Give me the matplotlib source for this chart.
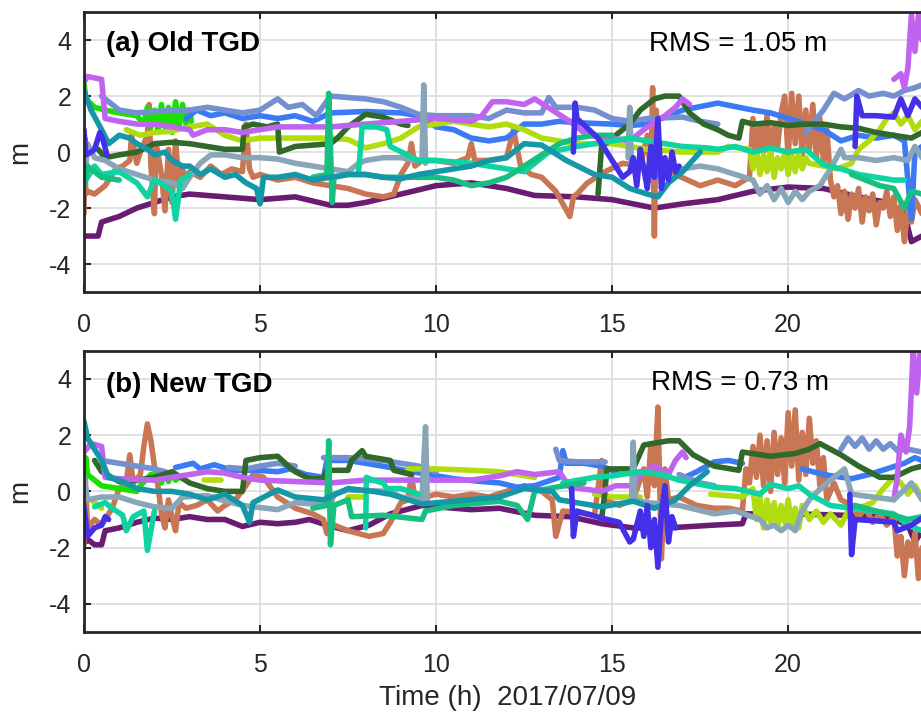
import matplotlib
matplotlib.use('Agg')
import matplotlib.pyplot as plt

plt.rcParams['font.family'] = ['Liberation Sans', 'DejaVu Sans']
plt.rcParams['axes.unicode_minus'] = False

# colours of the satellites
c_purple = '#6a1b72'
c_orange = '#c97655'
c_green = '#19e000'
c_blue = '#3a7af5'
c_violet = '#c064f0'
c_steel = '#7490d0'
c_dgreen = '#31692a'
c_lime = '#b0dc10'
c_teal = '#1497a6'
c_gray = '#89a6b8'
c_aqua = '#0fd3a0'
c_gteal = '#17c080'
c_bviolet = '#4530ea'

xticks = [0, 5, 10, 15, 20]
yticks = [-4, -2, 0, 2, 4]
rms_old = 1.05
rms_new = 0.73

# ---- (a) Old TGD, (hour, metres) ----
a_purple = [(0, -3.0), (0.4, -3.0), (0.5, -2.5), (1.0, -2.3), (1.5, -2.0), (2.0, -1.8), (2.5, -1.6), (3.0, -1.5),
            (4.0, -1.6), (5.0, -1.7), (6.0, -1.6), (7.0, -1.9), (7.5, -1.9), (8.0, -1.8), (9.0, -1.5), (10.0, -1.2),
            (11.0, -1.1), (12.0, -1.3), (12.8, -1.55), (14.0, -1.6), (15.0, -1.7), (16.2, -2.0), (17.0, -1.85),
            (18.0, -1.7), (19.0, -1.4), (20.0, -1.25), (21.0, -1.3), (22.0, -1.6), (22.8, -1.8), (23.3, -2.2),
            (23.5, -3.2), (23.8, -3.0)]
a_orange = [(0.0, -2.2), (0.02, 0.5), (0.05, -1.5), (0.1, -1.4), (0.3, -1.5), (0.6, -1.2), (0.9, -0.6), (1.1, -0.5),
            (1.3, -0.3), (1.35, 0.6), (1.5, -0.4), (1.6, 0.0), (1.8, 0.6), (1.85, 1.7), (1.9, -0.5), (2.0, -2.2),
            (2.05, 0.3), (2.2, -0.8), (2.3, -2.1), (2.4, 0.1), (2.5, -1.8), (2.6, 0.4), (2.7, -1.2), (2.8, -0.6),
            (2.9, -1.0), (3.0, -0.7), (3.3, -0.9), (3.6, -0.5), (3.9, -0.8), (4.2, -0.6), (4.5, -0.7), (4.6, 1.0),
            (4.7, -0.6), (4.8, -0.9), (5.0, -0.8), (5.5, -1.0), (6.0, -0.9), (6.5, -1.1), (7.0, -1.2), (7.5, -1.3),
            (8.0, -1.5), (8.5, -1.6), (8.8, -1.5), (9.0, -0.8), (9.2, -0.4), (9.3, 0.3), (9.4, -0.5), (9.6, -0.3),
            (10.0, -0.3), (10.5, -0.4), (10.9, -0.2), (11.0, 0.3), (11.1, -0.3), (11.5, -0.3), (12.0, -0.2),
            (12.2, 0.8), (12.4, -0.5), (12.7, -0.8), (13.0, -0.9), (13.4, -1.4), (13.8, -2.3), (13.9, -1.6),
            (14.0, -1.5), (14.3, -1.1), (14.8, -0.7), (15.3, -0.4), (15.8, -0.5), (16.0, 0.6), (16.1, -1.0),
            (16.15, 2.3), (16.2, -3.0), (16.25, 1.5), (16.3, -0.6), (16.5, -0.5), (16.8, -0.8), (17.5, -1.2),
            (18.0, -1.0), (18.5, -1.2), (18.9, -0.9), (19.0, 1.2), (19.1, -0.2), (19.2, 1.0), (19.3, 0.0),
            (19.4, 1.3), (19.5, -0.1), (19.6, 0.9), (19.7, 0.2), (19.8, 1.4), (19.9, 2.0), (20.0, -0.2),
            (20.1, 2.1), (20.2, 0.3), (20.3, 2.0), (20.4, -0.1), (20.5, 1.5), (20.6, 0.1), (20.7, 1.7),
            (20.8, -0.2), (20.9, 1.2), (21.0, -0.3), (21.1, 0.8), (21.2, -1.0), (21.3, -1.6), (21.4, -1.2),
            (21.5, -2.2), (21.6, -1.4), (21.7, -2.4), (21.8, -1.5), (21.9, -2.0), (22.0, -1.3), (22.1, -2.5),
            (22.2, -1.6), (22.3, -2.1), (22.4, -1.5), (22.5, -2.6), (22.6, -1.8), (22.7, -2.0), (22.8, -1.4),
            (22.9, -2.3), (23.0, -1.6), (23.1, -2.8), (23.2, -1.9), (23.3, -3.2), (23.4, -2.0), (23.5, -2.5),
            (23.6, -1.7), (23.8, -2.2)]
a_green = [(0.0, 2.5), (0.05, 1.9), (0.3, 1.6), (0.6, 1.5), (1.0, 1.4), (1.5, 1.3), (1.7, 1.0), (1.8, 1.6),
           (1.9, 0.9), (2.0, 1.5), (2.1, 0.8), (2.2, 1.7), (2.3, 0.9), (2.4, 1.6), (2.5, 0.7), (2.6, 1.8),
           (2.7, 0.9), (2.8, 1.7), (2.9, 1.0), (3.0, 1.5), (3.05, 1.1)]
a_blue = [(2.9, 1.2), (3.2, 1.5), (3.6, 1.3), (4.0, 1.4), (4.5, 1.2), (5.0, 1.3), (5.5, 1.2), (6.0, 1.3),
          (6.5, 1.1), (7.0, 1.4), (8.0, 1.45), (9.0, 1.4), (9.5, 1.3), (10.0, 0.9), (10.5, 0.8), (11.0, 0.5),
          (11.5, 0.4), (12.0, 0.5), (12.5, 1.0), (13.0, 1.0), (13.5, 1.1), (14.0, 1.05), (15.0, 1.0),
          (15.5, 0.95), (16.0, 1.0), (17.0, 1.5), (18.0, 1.75), (19.0, 1.5), (19.5, 1.4), (20.0, 1.2),
          (21.0, 0.8), (21.5, 0.4), (22.0, 0.6), (22.5, 0.5), (23.0, 0.6), (23.3, 0.4), (23.5, -2.4),
          (23.6, 0.0), (23.8, 0.2)]
a_violet_1 = [(0.0, 2.5), (0.1, 2.7), (0.5, 2.6), (0.6, 1.2), (1.0, 1.1), (1.5, 1.0), (2.0, 1.0), (2.5, 0.9),
              (3.0, 0.8), (3.1, 0.6), (3.5, 0.8), (4.0, 0.8), (4.5, 0.7), (5.0, 0.8), (5.5, 0.9), (6.0, 0.9),
              (7.0, 0.9), (8.0, 1.0), (9.0, 1.1), (10.0, 1.2), (11.0, 1.1), (11.3, 1.3), (11.6, 1.8), (12.0, 1.8),
              (12.5, 1.7), (12.8, 1.9), (13.3, 1.5), (13.8, 1.1), (14.3, 0.6), (15.0, 0.5), (15.5, 0.4),
              (16.0, 0.9), (16.5, 1.3), (16.8, 1.6), (17.0, 1.9), (17.2, 1.7)]
a_violet_2 = [(23.0, 2.6), (23.2, 2.8), (23.3, 2.3), (23.4, 3.0), (23.5, 4.9), (23.6, 3.6), (23.7, 4.9), (23.8, 4.0)]
a_steel_1 = [(0.5, 2.0), (0.8, 1.7), (1.0, 1.5), (1.5, 1.4), (2.5, 1.5), (3.0, 1.5), (3.5, 1.6), (4.0, 1.5),
             (4.5, 1.4), (5.0, 1.5), (5.5, 1.9), (5.8, 1.6), (6.2, 1.7), (6.6, 1.3), (7.0, 2.0), (7.5, 1.95),
             (8.0, 1.9), (8.5, 1.8), (9.0, 1.6), (9.5, 1.35), (10.0, 1.3), (11.0, 1.3), (11.5, 1.2), (12.0, 1.5),
             (12.5, 1.4), (13.0, 1.4), (13.2, 1.95), (13.4, 1.6), (14.0, 1.6), (14.5, 1.5), (15.0, 1.2),
             (15.5, 1.1), (16.0, 1.2), (17.0, 1.25), (17.5, 1.1), (18.0, 1.0)]
a_steel_2 = [(20.5, 0.7), (21.0, 1.5), (21.3, 2.1), (21.6, 1.9), (22.0, 2.2), (22.3, 2.0), (22.7, 2.1),
             (23.0, 2.0), (23.3, 2.2), (23.6, 2.3), (23.8, 2.4)]
a_dgreen_1 = [(0.4, 0.1), (0.6, -0.2), (1.0, -0.1), (1.5, 0.0), (2.0, 0.3), (2.5, 0.35), (3.0, 0.3), (3.5, 0.2),
              (4.0, 0.1), (4.5, 0.1), (4.55, 0.9), (4.8, 1.0), (5.2, 0.9), (5.5, 1.0), (5.55, 0.0), (6.0, 0.2),
              (6.5, 0.25), (7.0, 0.3), (7.2, 0.5), (7.5, 0.9), (8.0, 1.35), (8.5, 1.25), (9.0, 1.0), (9.2, 0.95)]
a_dgreen_2 = [(14.6, -1.5), (14.7, 0.2), (15.0, 0.5), (15.5, 1.0), (15.8, 1.5), (16.2, 1.9), (16.5, 2.0),
              (16.9, 2.0), (17.2, 1.4), (17.6, 1.0), (18.0, 0.8), (18.3, 0.6), (18.6, 0.5), (18.7, 1.1),
              (19.0, 1.0), (19.5, 1.05), (20.0, 0.95), (20.5, 1.0), (21.0, 1.0), (21.5, 0.9), (22.0, 0.85),
              (22.5, 0.7), (23.0, 0.6), (23.5, 0.5), (23.8, 0.7)]
a_lime = [(1.2, 0.8), (1.6, 0.6), (2.0, 0.7), (2.5, 0.75), (3.0, 0.9), (3.5, 1.0), (4.0, 0.6), (4.5, 0.4),
          (5.0, 0.5), (6.0, 0.5), (7.0, 0.5), (7.5, 0.45), (8.0, 0.15), (8.5, 0.3), (9.0, 0.5), (9.5, 0.9),
          (10.0, 1.0), (10.5, 1.1), (11.0, 1.0), (11.5, 0.9), (12.0, 1.0), (12.5, 0.8), (13.0, 0.5), (14.0, 0.3),
          (15.0, 0.3), (16.0, 0.1), (17.0, 0.0), (18.0, 0.0), (18.3, 0.2), (18.9, 0.1), (19.0, -0.6),
          (19.1, 0.0), (19.2, -0.8), (19.3, -0.1), (19.4, -0.7), (19.5, 0.1), (19.6, -0.9), (19.7, -0.2),
          (19.8, -0.6), (19.9, 0.0), (20.0, -0.8), (20.1, -0.1), (20.2, -0.7), (20.3, 0.0), (20.4, -0.6),
          (20.5, -0.2), (20.6, -0.4), (21.0, -0.5), (21.4, -0.6), (21.8, -0.4), (22.0, 0.1), (22.3, 0.4),
          (22.6, 0.8), (22.8, 1.2), (23.0, 1.4), (23.2, 1.0), (23.4, 1.3), (23.6, 0.8), (23.8, 1.1)]
a_teal = [(0.0, 2.2), (0.2, 1.5), (0.5, 0.8), (0.7, 0.3), (1.0, 0.6), (1.3, 0.5), (1.5, 0.3), (1.8, 0.1),
          (2.0, -0.1), (2.3, 0.0), (2.5, -0.3), (2.8, -0.5), (3.0, -0.5), (3.3, -0.8), (3.6, -0.6), (4.0, -0.9),
          (4.3, -0.8), (4.6, -1.1), (4.9, -1.3), (5.0, -1.85), (5.1, -0.9), (5.5, -0.9), (6.0, -0.8),
          (6.5, -1.0), (7.0, -0.9), (7.5, -0.8), (8.0, -0.8), (8.5, -0.9), (9.0, -0.95), (9.5, -0.8),
          (10.0, -0.7), (10.5, -0.6), (11.0, -0.5), (11.5, -0.3), (12.0, -0.2), (12.5, 0.3), (13.0, 0.25),
          (13.7, -0.3), (14.5, -0.8), (15.0, -0.9), (15.5, -1.3), (16.0, -1.5), (16.3, -1.6), (16.6, -1.1),
          (17.0, -0.7), (17.5, 0.0)]
a_gray_1 = [(0.0, 0.0), (0.05, -0.6), (0.1, 0.3), (0.3, -0.2), (0.6, -0.3), (1.0, -0.6), (1.5, -0.8),
            (2.0, -1.0), (2.5, -1.1), (2.8, -1.3), (3.0, -0.9), (3.3, -0.4), (3.6, -0.1), (4.0, -0.1),
            (4.5, -0.2), (5.0, -0.2), (5.5, -0.25), (6.0, -0.4), (6.5, -0.5), (7.0, -0.6), (7.5, -0.7),
            (7.8, -0.4), (8.0, -0.3), (8.5, -0.2), (9.0, -0.2), (9.4, -0.3), (9.6, -0.3), (9.65, 2.4), (9.7, -0.4)]
a_gray_2 = [(15.45, -0.2), (15.5, 1.6), (15.55, -0.6), (16.0, -0.5), (16.5, -0.6), (17.0, -0.6), (17.5, -0.5),
            (18.0, -0.6), (18.5, -0.8), (19.0, -1.0), (19.2, -1.5), (19.4, -1.2), (19.6, -1.7), (19.8, -1.3),
            (20.0, -1.8), (20.2, -1.4), (20.4, -1.7), (20.6, -1.4), (20.9, -1.2), (21.2, -0.6), (21.5, 0.1),
            (21.6, -0.2), (22.0, -0.2), (22.5, -0.3), (23.0, -0.2), (23.4, -0.3), (23.6, 0.2), (23.8, -0.2)]
a_aqua_1 = [(0.0, -1.1), (0.3, -0.5), (0.5, -0.8), (1.0, -0.7), (1.5, -1.1), (1.8, -1.6), (2.0, -1.0),
            (2.3, -1.2), (2.5, -1.4), (2.6, -2.4), (2.75, -1.0), (3.0, -0.8)]
a_aqua_2 = [(7.8, -0.7), (7.9, 0.9), (8.3, 0.9), (8.6, 0.8), (8.7, 0.2), (9.5, -0.3), (10.0, -0.3), (11.0, -0.4),
            (11.5, -0.5), (12.0, -0.6), (12.5, -0.7), (13.2, 0.0), (14.0, 0.2), (15.0, 0.4), (15.5, 0.5),
            (16.0, 0.4), (17.0, 0.2), (17.7, 0.15), (18.0, 0.1), (18.5, 0.2), (19.0, 0.0), (19.5, 0.15),
            (20.0, 0.0), (20.5, 0.1), (21.0, -0.45), (21.5, -0.6), (22.0, -0.8), (22.5, -0.9), (23.0, -1.0),
            (23.3, -1.0)]
a_gteal_1 = [(0.0, -1.2), (0.1, -0.5), (0.5, -0.9), (1.0, -1.0)]
a_gteal_2 = [(6.5, -0.9), (6.9, -0.8), (6.95, 2.1), (7.05, -1.8), (7.1, -0.9), (7.5, -0.8), (8.0, -0.8),
             (8.5, -0.9), (9.0, -0.9), (10.0, -0.9), (10.5, -1.0), (11.0, -1.2), (11.5, -1.1), (12.0, -0.9),
             (12.5, -0.5), (13.0, -0.1), (13.5, 0.3), (14.0, 0.5), (14.5, 0.6), (15.0, 0.6)]
a_gteal_3 = [(21.8, -0.8), (22.2, -1.0), (22.6, -1.2), (23.0, -1.3), (23.3, -2.0), (23.5, -1.4), (23.8, -1.5)]
a_bviolet_1 = [(0.0, 0.8), (0.05, -0.1), (0.2, 0.0), (0.3, 0.1), (0.45, 0.7), (0.55, 0.4), (0.65, -0.1)]
a_bviolet_2 = [(13.9, 0.0), (13.95, 1.75), (14.0, 1.2), (14.6, 0.5), (15.0, -0.3), (15.3, -0.9), (15.5, -0.7),
               (15.6, -0.2), (15.7, -1.2), (15.8, 0.1), (15.9, -0.6), (16.0, -1.3), (16.1, 0.2), (16.2, -0.9),
               (16.3, 1.2), (16.4, -1.3), (16.5, -0.2), (16.6, -1.0), (16.7, 0.0), (16.8, -0.7), (16.9, -0.5)]
a_bviolet_3 = [(21.9, 0.2), (21.95, 2.0), (22.1, 1.3), (22.5, 1.3), (23.0, 1.25), (23.2, 1.9), (23.4, 1.3),
               (23.6, 1.9), (23.8, 1.6)]

# ---- (b) New TGD ----
b_purple = [(0.0, -1.8), (0.15, -1.75), (0.3, -1.9), (0.5, -1.9), (0.6, -1.4), (1.0, -1.3), (1.5, -1.1),
            (2.0, -0.95), (2.5, -1.0), (3.0, -0.9), (3.5, -1.0), (4.0, -1.0), (4.5, -1.25), (5.0, -1.1),
            (5.5, -1.15), (6.0, -1.1), (6.4, -1.0), (6.9, -1.2), (7.5, -1.4), (8.1, -1.2), (8.7, -0.8),
            (9.6, -0.5), (10.5, -0.6), (11.0, -0.65), (11.8, -0.6), (12.8, -0.85), (13.8, -0.9), (14.7, -1.15),
            (15.6, -1.3), (16.6, -1.3), (17.9, -1.2), (18.7, -1.15), (18.8, -0.8), (20.2, -0.8), (21.6, -0.85),
            (22.5, -0.9), (23.0, -1.0), (23.4, -1.2), (23.6, -1.8), (23.8, -1.4)]
b_orange = [(0.0, -1.9), (0.03, 0.6), (0.1, -1.3), (0.3, -1.0), (0.5, -1.2), (0.8, -0.6), (1.0, 0.1), (1.2, 0.3),
            (1.3, 1.3), (1.4, 0.3), (1.6, 0.6), (1.7, 1.6), (1.8, 2.4), (1.9, 1.8), (2.0, 0.9), (2.1, 0.2),
            (2.2, -0.8), (2.3, -1.3), (2.4, -0.3), (2.5, -0.9), (2.6, -1.4), (2.7, -0.4), (2.9, -0.6), (3.2, -0.5),
            (3.5, -0.3), (3.8, -0.7), (4.0, -0.5), (4.3, -0.3), (4.6, 0.2), (4.8, 0.6), (5.1, 0.5), (5.5, -0.2),
            (6.0, -0.6), (6.5, -0.8), (6.8, -1.0), (6.9, -1.5), (7.1, -1.2), (7.5, -1.4), (8.1, -1.6),
            (8.5, -1.5), (8.7, -1.1), (9.0, -0.4), (9.2, -0.3), (9.3, 0.6), (9.4, -0.3), (10.0, -0.1),
            (10.5, -0.2), (11.0, -0.1), (11.5, -0.2), (12.0, 0.0), (12.5, 0.2), (13.0, 0.0), (13.3, -0.3),
            (13.4, -1.6), (13.6, -0.7), (14.0, -0.75), (14.5, -0.85), (14.7, 1.1), (14.8, -0.3), (15.2, -0.5),
            (15.6, -0.3), (15.9, 0.8), (16.0, -0.2), (16.1, 1.7), (16.2, 0.2), (16.3, 3.0), (16.4, -2.4),
            (16.5, 0.8), (16.6, -0.3), (16.9, -0.2), (17.4, -0.5), (17.9, -0.6), (18.3, -0.6), (18.7, -0.7),
            (18.8, 0.8), (18.9, 0.3), (19.0, 1.6), (19.1, 0.5), (19.2, 2.0), (19.3, 0.2), (19.4, 1.8),
            (19.5, 0.0), (19.6, 2.1), (19.7, 0.6), (19.8, 1.9), (19.9, 0.3), (20.0, 2.8), (20.1, 0.9),
            (20.2, 2.9), (20.3, 0.4), (20.4, 2.1), (20.5, 0.6), (20.6, 2.6), (20.7, 1.0), (20.8, 1.8),
            (20.9, 0.2), (21.0, 1.2), (21.1, -0.3), (21.3, 0.3), (21.5, -0.3), (21.8, -0.5), (22.0, -0.9),
            (22.2, -0.6), (22.4, -1.1), (22.6, -0.8), (22.8, -1.2), (23.0, -0.9), (23.1, -2.3), (23.2, -1.6),
            (23.3, -3.0), (23.4, -1.8), (23.5, -2.3), (23.6, -1.5), (23.7, -3.1), (23.8, -2.0)]
b_green = [(0.0, 0.8), (0.05, 1.2), (0.1, 0.6), (0.3, 0.4), (0.5, 0.2), (1.0, 0.1), (1.5, 0.0), (1.6, 0.2),
           (1.9, 0.6), (2.0, 0.4), (2.1, 0.75), (2.2, 0.3), (2.3, 0.7), (2.4, 0.35), (2.5, 0.65), (2.6, 0.4),
           (2.7, 0.5)]
b_blue_1 = [(2.6, 0.85), (3.1, 1.0), (3.3, 0.8), (3.7, 0.95), (4.2, 0.75), (4.9, 0.75), (5.5, 0.7), (5.85, 0.8),
            (6.3, 0.6), (6.8, 0.5), (6.9, 1.1), (7.5, 1.1), (8.0, 1.0), (8.7, 0.85), (9.3, 0.7), (9.8, 0.6),
            (10.5, 0.45), (11.3, 0.35), (11.8, 0.3), (12.3, 0.15), (12.8, 0.2), (13.5, 0.5), (13.6, 1.45),
            (13.7, 1.0), (14.2, 1.0), (14.7, 0.9), (15.1, 0.7)]
b_blue_2 = [(16.9, 0.4), (17.4, 0.7), (17.9, 1.05), (18.3, 1.1), (18.7, 1.0)]
b_blue_3 = [(20.4, 0.8), (21.0, 0.6), (21.8, 0.45), (22.3, 0.6), (22.8, 0.8), (23.3, 1.0), (23.6, 1.2), (23.8, 1.1)]
b_violet_1 = [(0.0, 1.4), (0.2, 1.7), (0.5, 1.6), (0.6, 0.5), (1.0, 0.45), (2.0, 0.4), (3.0, 0.6), (3.5, 0.7),
              (4.0, 0.65), (4.5, 0.5), (5.0, 0.4), (6.0, 0.35), (7.0, 0.3), (8.0, 0.4), (9.0, 0.4), (10.0, 0.4),
              (11.0, 0.4), (11.8, 0.55), (12.3, 0.7), (12.8, 0.6), (13.5, 0.7), (13.8, 0.15), (14.7, 0.0),
              (15.1, 0.2), (15.6, 0.2), (15.8, 0.6), (16.2, 0.9), (16.6, 0.6), (16.8, 1.1), (17.0, 1.4), (17.1, 1.2)]
b_violet_2 = [(23.0, -0.3), (23.1, 0.5), (23.2, 2.0), (23.35, 1.4), (23.45, 2.3), (23.55, 5.0), (23.65, 3.5),
              (23.75, 5.0)]
b_steel_1 = [(0.5, 1.1), (1.0, 1.0), (1.5, 0.9), (2.0, 0.8), (2.3, 0.7)]
b_steel_2 = [(4.1, 0.85), (4.6, 0.8), (5.0, 0.9), (5.5, 1.0), (6.0, 0.9)]
b_steel_3 = [(6.8, 1.2), (7.5, 1.2), (8.5, 1.1), (9.5, 0.9), (10.0, 0.7)]
b_steel_4 = [(13.4, 1.5), (13.5, 1.1), (14.0, 1.05), (14.8, 1.05)]
b_steel_5 = [(16.9, 0.6), (17.5, 0.3), (17.9, 0.2)]
b_steel_6 = [(21.5, 1.5), (21.7, 1.9), (21.9, 1.6), (22.1, 1.9), (22.3, 1.5), (22.5, 1.8), (22.7, 1.5),
             (22.9, 1.7), (23.1, 1.45), (23.4, 1.5), (23.8, 1.4)]
b_dgreen_1 = [(0.3, 1.1), (0.5, 0.7), (1.0, 0.35), (1.5, 0.4), (2.0, 0.5), (2.5, 0.7), (3.0, 0.3), (3.5, 0.1),
              (4.0, 0.0), (4.5, 0.0), (4.6, 1.1), (5.0, 1.2), (5.5, 1.25), (5.8, 0.9), (6.0, 0.7), (6.4, 0.45),
              (6.8, 0.45), (6.9, 0.75), (7.5, 0.75), (7.6, 1.1), (7.9, 1.45), (8.0, 1.25), (8.7, 1.1),
              (8.8, 0.75), (9.3, 0.6)]
b_dgreen_2 = [(14.7, -1.0), (14.8, 0.05), (14.85, 0.8), (15.6, 0.8), (15.9, 1.65), (16.6, 1.8), (16.9, 1.8),
              (17.3, 1.3), (17.9, 0.9), (18.6, 0.75), (18.7, 1.4), (19.5, 1.25), (20.2, 1.35), (20.6, 1.5),
              (20.9, 1.7), (21.5, 1.3), (22.0, 0.9), (22.6, 0.5), (23.0, 0.5), (23.5, 0.8), (23.8, 0.9)]
b_lime_1 = [(0.2, -0.3), (0.5, -0.6)]
b_lime_2 = [(3.4, 0.4), (3.9, 0.4)]
b_lime_3 = [(7.5, -0.2), (8.0, -0.2)]
b_lime_4 = [(9.2, 0.8), (10.0, 0.8), (11.0, 0.75), (11.8, 0.7), (12.8, 0.5)]
b_lime_5 = [(14.5, -0.1), (15.0, -0.2), (15.8, -0.2)]
b_lime_6 = [(17.8, -0.1), (18.7, -0.2), (19.0, 0.1), (19.1, -1.0), (19.2, -0.2), (19.3, -1.3), (19.4, -0.3),
            (19.5, -1.1), (19.6, -0.4), (19.7, -1.3), (19.8, -0.5), (19.9, -1.1), (20.0, -0.3), (20.1, -1.2),
            (20.2, -0.6), (20.3, -1.3), (20.4, -0.5), (20.6, -1.0), (20.8, -0.7), (21.0, -1.1), (21.2, -0.8),
            (21.5, -1.2), (21.7, -0.7), (22.0, -0.6), (22.4, -0.4), (22.7, 0.1), (23.0, 0.5), (23.2, 0.3),
            (23.4, -0.1), (23.6, 0.2), (23.8, -0.2)]
b_teal = [(0.0, 2.5), (0.1, 1.9), (0.3, 1.5), (0.5, 1.1), (0.7, 0.5), (1.0, 0.4), (1.5, 0.1), (2.0, 0.0),
          (2.5, 0.0), (3.0, -0.1), (3.5, -0.3), (4.0, -0.1), (4.5, -0.5), (4.7, -1.1), (4.8, -0.4), (5.5, 0.05),
          (6.0, -0.2), (6.8, -0.3), (7.5, 0.1), (8.2, 0.0), (8.7, -0.1), (9.6, -0.45), (10.5, -0.35),
          (11.8, -0.2), (12.5, 0.1), (13.3, 0.0), (13.5, -0.3), (14.7, -0.55), (15.6, -0.35), (16.2, -0.6),
          (16.8, -0.3), (17.2, 0.2), (17.7, 0.7)]
b_gray_1 = [(0.0, 0.5), (0.1, -0.3), (0.5, -0.2), (1.0, -0.2), (1.5, -0.4), (2.0, -0.55), (2.5, -0.6),
            (2.8, -0.2), (3.5, -0.15), (3.9, -0.3), (4.5, -0.5), (5.5, -0.65), (6.0, -0.4), (7.0, -0.5),
            (7.1, -0.1), (7.5, 0.05), (8.7, 0.0), (9.0, -0.2), (9.6, -0.3), (9.7, 2.3), (9.75, -0.3)]
b_gray_2 = [(15.55, -0.3), (15.6, 1.75), (15.65, -0.3), (16.0, -0.4), (16.9, -0.5), (17.9, -0.8), (18.5, -0.7),
            (19.2, -1.0), (19.4, -1.3), (19.6, -1.2), (19.8, -1.4), (20.0, -1.2), (20.2, -1.4), (20.4, -0.7),
            (20.6, -0.3), (21.0, 0.2), (21.6, 0.8), (21.8, -0.1), (22.4, -0.2), (23.0, -0.3), (23.5, 0.3),
            (23.8, -0.3)]
b_aqua_1 = [(0.3, -0.55), (0.6, -0.4), (0.8, -0.6), (1.1, -0.85), (1.2, -1.4), (1.4, -0.9), (1.7, -0.7),
            (1.8, -2.1), (2.0, -0.7)]
b_aqua_2 = [(8.0, -1.3), (8.02, 0.5), (8.2, 0.4), (8.5, 0.3), (8.6, 0.1), (9.0, 0.1), (9.5, -0.1)]
b_aqua_3 = [(13.6, 0.3), (14.5, 0.5), (15.0, 0.55), (15.8, 0.7), (16.4, 0.6), (16.9, 0.4), (17.9, 0.15),
            (18.5, 0.1), (19.2, -0.1), (19.5, 0.25), (20.0, 0.1), (20.3, 0.2), (20.6, -0.1), (21.2, -0.5),
            (21.8, -0.6), (22.4, -0.7), (23.0, -0.8), (23.4, -1.2), (23.8, -1.4)]
b_gteal_1 = [(6.5, -0.6), (6.9, -0.5), (6.95, 1.8), (7.0, -1.9), (7.1, -0.5), (7.5, -0.3), (7.6, -0.9),
             (8.5, -0.85), (9.6, -1.0), (9.7, -0.7), (10.5, -0.5), (11.8, -0.35), (12.3, -0.5), (12.6, -1.0),
             (12.8, 0.0), (13.4, 0.15), (14.2, 0.3)]
b_gteal_2 = [(21.9, -0.5), (22.5, -0.7), (23.0, -0.85), (23.4, -1.0), (23.8, -0.9)]
b_bviolet_1 = [(0.0, -0.55), (0.1, -1.6), (0.3, -1.3), (0.5, -1.2), (0.6, -0.9), (0.7, -1.0)]
b_bviolet_2 = [(13.85, 0.1), (13.9, -1.6), (14.0, -0.7), (14.7, -0.95), (15.2, -1.1), (15.5, -1.8), (15.6, -1.7),
               (15.8, -0.7), (15.9, -1.6), (16.0, -0.5), (16.1, -2.0), (16.2, -1.0), (16.3, -2.7), (16.4, -0.8),
               (16.5, 0.2), (16.6, -1.8), (16.7, -0.9), (16.8, -1.3)]
b_bviolet_3 = [(21.75, -0.1), (21.8, -2.25), (21.9, -1.0), (22.5, -1.05), (23.0, -1.1), (23.1, -1.4),
               (23.5, -1.2), (23.8, -0.95)]

panel_a = [(a_purple, c_purple), (a_orange, c_orange), (a_green, c_green), (a_blue, c_blue),
           (a_steel_1, c_steel), (a_steel_2, c_steel), (a_lime, c_lime), (a_dgreen_1, c_dgreen),
           (a_dgreen_2, c_dgreen), (a_violet_1, c_violet), (a_violet_2, c_violet), (a_gray_1, c_gray),
           (a_gray_2, c_gray), (a_aqua_1, c_aqua), (a_aqua_2, c_aqua), (a_gteal_1, c_gteal),
           (a_gteal_2, c_gteal), (a_gteal_3, c_gteal), (a_teal, c_teal), (a_bviolet_1, c_bviolet),
           (a_bviolet_2, c_bviolet), (a_bviolet_3, c_bviolet)]
panel_b = [(b_purple, c_purple), (b_orange, c_orange), (b_green, c_green), (b_blue_1, c_blue),
           (b_blue_2, c_blue), (b_blue_3, c_blue), (b_steel_1, c_steel), (b_steel_2, c_steel),
           (b_steel_3, c_steel), (b_steel_4, c_steel), (b_steel_5, c_steel), (b_steel_6, c_steel),
           (b_lime_1, c_lime), (b_lime_2, c_lime), (b_lime_3, c_lime), (b_lime_4, c_lime), (b_lime_5, c_lime),
           (b_lime_6, c_lime), (b_dgreen_1, c_dgreen), (b_dgreen_2, c_dgreen), (b_violet_1, c_violet),
           (b_violet_2, c_violet), (b_gray_1, c_gray), (b_gray_2, c_gray), (b_aqua_1, c_aqua),
           (b_aqua_2, c_aqua), (b_aqua_3, c_aqua), (b_gteal_1, c_gteal), (b_gteal_2, c_gteal),
           (b_teal, c_teal), (b_bviolet_1, c_bviolet), (b_bviolet_2, c_bviolet), (b_bviolet_3, c_bviolet)]


def style_axes(ax):
    ax.set_xlim(0, 24)
    ax.set_ylim(-5, 5)
    ax.set_xticks(xticks)
    ax.set_yticks(yticks)
    ax.grid(True, color='#dcdcdc', lw=1.2)
    ax.set_axisbelow(True)
    ax.tick_params(direction='in', length=5, width=1.5, top=True, right=True,
                   labelsize=18, colors='#262626')
    ax.tick_params(axis='x', pad=15)
    ax.tick_params(axis='y', pad=9)
    for sp in ax.spines.values():
        sp.set_linewidth(2.0)
        sp.set_color('#262626')


fig = plt.figure(figsize=(9.21, 7.14), dpi=100)
ax1 = fig.add_axes([0.0912, 0.591, 0.9175, 0.392])
ax2 = fig.add_axes([0.0912, 0.115, 0.9175, 0.3936])

for ax, series in [(ax1, panel_a), (ax2, panel_b)]:
    for pts, col in series:
        ax.plot([p[0] for p in pts], [p[1] for p in pts], color=col, lw=4.0,
                solid_joinstyle='round', solid_capstyle='round')
    style_axes(ax)

ax1.text(0.026, 0.886, '(a) Old TGD', transform=ax1.transAxes, fontsize=20, fontweight='bold', va='center')
ax1.text(0.669, 0.886, 'RMS = %.2f m' % rms_old, transform=ax1.transAxes, fontsize=20, va='center')
ax2.text(0.026, 0.879, '(b) New TGD', transform=ax2.transAxes, fontsize=20, fontweight='bold', va='center')
ax2.text(0.671, 0.886, 'RMS = %.2f m' % rms_new, transform=ax2.transAxes, fontsize=20, va='center')

fig.text(20 / 921, 1 - 152 / 714, 'm', rotation=90, fontsize=20, ha='center', va='center', color='#262626')
fig.text(20 / 921, 1 - 491 / 714, 'm', rotation=90, fontsize=20, ha='center', va='center', color='#262626')
fig.text(508 / 921, 1 - 698 / 714, 'Time (h)  2017/07/09', fontsize=20, ha='center', va='center', color='#262626')

fig.savefig('out.png', dpi=100)
